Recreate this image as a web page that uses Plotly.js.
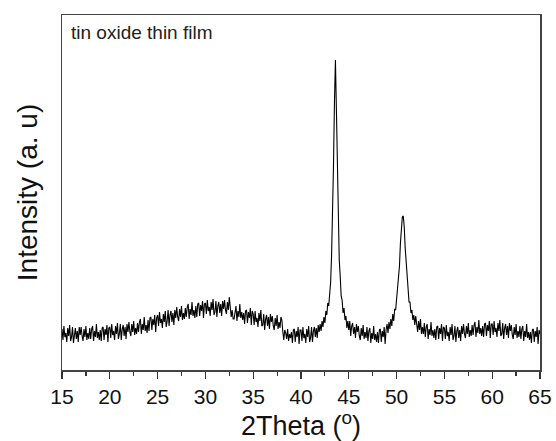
<!DOCTYPE html>
<html>
<head>
<meta charset="utf-8">
<script src="https://cdn.plot.ly/plotly-3.0.1.min.js"></script>
<style>html,body{margin:0;padding:0;background:#fff;}#chart{width:556px;height:441px;}</style>
</head>
<body>
<div id="chart"></div>
<script>
// 2Theta sampling: start angle and step (degrees)
const thetaStart = 15.0;
const thetaStep = 0.1;

// Intensity (a. u), one row per degree, 0.1 deg steps
const intensity15to24 = [
  41,30,44,33,37,28,42,34,45,29,
  33,43,27,38,42,31,39,28,43,35,
  43,34,29,41,33,44,30,37,31,42,
  31,41,44,29,39,33,46,32,38,30,
  40,29,42,43,30,41,35,45,28,42,
  43,32,46,35,39,30,44,36,47,31,
  36,46,30,41,45,34,43,31,46,38,
  48,38,34,46,38,49,35,42,36,47,
  38,48,51,36,46,40,53,39,45,37,
  50,39,52,53,40,51,45,55,38,52
];
const intensity25to34 = [
  55,44,58,47,51,42,56,48,59,43,
  49,60,44,55,59,48,57,45,60,52,
  63,53,49,61,53,64,50,57,51,62,
  53,63,66,51,61,55,68,54,60,52,
  64,53,66,67,54,65,59,69,52,66,
  67,56,70,59,63,54,68,60,71,55,
  58,69,53,64,68,57,66,54,69,61,
  70,60,56,68,60,73,64,53,60,51,
  51,61,64,49,59,53,66,52,58,50,
  57,46,59,60,47,58,52,62,45,59
];
const intensity35to44 = [
  56,45,59,48,52,43,57,49,60,44,
  45,56,40,51,55,44,53,41,56,48,
  54,44,40,52,44,55,41,48,42,53,
  50,38,30,40,37,31,41,29,36,32,
  38,27,40,41,28,39,33,43,26,40,
  40,29,43,32,36,27,41,33,44,28,
  32,43,28,39,43,33,42,32,45,38,
  46,39,49,43,53,47,59,55,67,64,
  79,88,115,151,205,268,310,262,204,148,
  110,94,74,70,57,62,50,54,42,49
];
const intensity45to54 = [
  40,49,34,44,47,36,43,32,46,38,
  44,34,30,42,34,45,31,38,32,43,
  29,39,42,27,37,31,44,30,36,28,
  38,27,40,41,28,39,33,43,26,40,
  46,37,48,41,51,44,56,49,61,60,
  73,78,94,104,127,139,153,154,143,122,
  108,89,83,68,68,57,60,50,55,45,
  54,43,38,49,40,51,36,43,36,47,
  33,43,46,31,41,35,48,34,40,32,
  41,30,43,44,31,42,36,46,29,43
];
const intensity55to65 = [
  42,31,45,34,38,29,43,35,46,30,
  34,44,28,39,43,32,40,29,44,36,
  46,36,32,44,36,47,33,40,34,45,
  35,45,48,33,43,37,50,36,42,34,
  44,33,46,47,34,45,39,49,32,46,
  46,35,49,38,42,33,47,39,50,34,
  36,47,31,42,46,35,44,32,47,39,
  45,35,31,43,35,46,32,39,33,44,
  31,41,44,29,39,33,46,32,38,30,
  38,27,40,41,28,39,33,43,26,40,
  36
];

const xTickVals = [15,20,25,30,35,40,45,50,55,60,65];
const xTickText = ["15","20","25","30","35","40","45","50","55","60","65"];

const intensity = [].concat(intensity15to24, intensity25to34, intensity35to44, intensity45to54, intensity55to65);
const twoTheta = intensity.map((_, i) => +(thetaStart + i * thetaStep).toFixed(2));

const trace = {
  x: twoTheta, y: intensity, type: 'scatter', mode: 'lines',
  line: {color: '#000', width: 1.1}, hoverinfo: 'skip'
};

const FONT = '"Liberation Sans", Arial, sans-serif';
const layout = {
  width: 556, height: 441,
  margin: {l: 62, r: 16, t: 15, b: 71},
  paper_bgcolor: '#fff', plot_bgcolor: '#fff',
  showlegend: false,
  font: {family: FONT, color: '#111'},
  xaxis: {
    range: [15, 65], tickmode: 'array', tickvals: xTickVals, ticktext: xTickText,
    ticks: 'outside', ticklen: 7, tickwidth: 1.3, tickcolor: '#333',
    minor: {dtick: 2.5, ticks: 'outside', ticklen: 4, tickwidth: 1.2, tickcolor: '#333', showgrid: false},
    showgrid: false, zeroline: false,
    showline: true, mirror: true, linecolor: '#444', linewidth: 1.5,
    tickfont: {size: 21, family: FONT, color: '#111'},
    title: {text: '2Theta (<sup>o</sup>)', font: {size: 27, family: FONT, color: '#111'}, standoff: 9},
    automargin: false, fixedrange: true
  },
  yaxis: {
    range: [0, 355], showticklabels: false, ticks: '',
    showgrid: false, zeroline: false,
    showline: true, mirror: true, linecolor: '#444', linewidth: 1.5,
    title: {text: 'Intensity (a. u)', font: {size: 28, family: FONT, color: '#111'}, standoff: 14},
    automargin: false, fixedrange: true
  },
  annotations: [{
    text: 'tin oxide thin film', xref: 'paper', yref: 'paper', x: 0, y: 1,
    xanchor: 'left', yanchor: 'top', xshift: 7, yshift: -5, showarrow: false,
    font: {size: 19, family: FONT, color: '#222'}
  }]
};

Plotly.newPlot('chart', [trace], layout, {staticPlot: true, displayModeBar: false});
</script>
</body>
</html>
